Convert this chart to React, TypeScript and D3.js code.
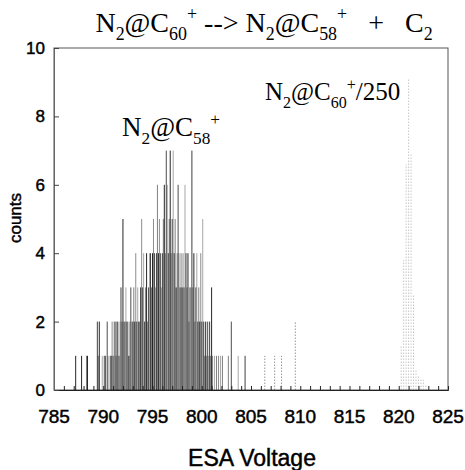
import React, { useEffect, useRef } from "react";
import * as d3 from "d3";

// ESA scan of N2@C58+ fragments, 0.1 V channels starting at 786.0 V
const mainStart = 786.0;
const mainStep = 0.1;
const mainCounts = [
  0, 0, 0, 0, 0, 0, 0, 0, 0, 0, // 786
  0, 0, 1, 0, 0, 0, 0, 0, 1, 0, // 787
  0, 0, 0, 1, 1, 0, 0, 0, 0, 0, // 788
  0, 0, 0, 0, 2, 1, 2, 0, 0, 1, // 789
  0, 1, 1, 0, 2, 1, 0, 1, 1, 2, // 790
  1, 2, 2, 1, 2, 2, 1, 2, 3, 2, // 791
  5, 2, 2, 3, 2, 2, 1, 2, 3, 2, // 792
  2, 3, 2, 4, 2, 3, 2, 2, 3, 5, // 793
  3, 4, 2, 3, 4, 2, 3, 4, 4, 3, // 794
  4, 5, 4, 3, 4, 6, 4, 5, 4, 3, // 795
  4, 5, 6, 4, 7, 6, 4, 5, 7, 4, // 796
  5, 7, 4, 5, 3, 4, 6, 4, 3, 4, // 797
  3, 4, 3, 6, 4, 3, 4, 2, 3, 3, // 798
  7, 3, 4, 2, 3, 4, 2, 3, 2, 4, // 799
  2, 5, 2, 1, 2, 1, 2, 1, 2, 1, // 800
  3, 1, 0, 1, 0, 1, 0, 1, 0, 1, // 801
  0, 1, 0, 0, 0, 0, 0, 1, 0, 0, // 802
  2, 0, 0, 0, 0, 0, 0, 1, 0, 0, // 803
  0, 0, 0, 0, 1, 0, 0, 0, 0, 0, // 804
];

// isolated counts beyond the main cluster
const sparseVolts = [806.4, 807.4, 808.1, 809.5];
const sparseCounts = [1, 1, 1, 2];

// parent ion peak, divided by 250
const parentVolts = [820.25, 820.5, 820.75, 821.0, 821.25, 821.5, 821.75, 822.0, 822.25, 822.5, 822.75];
const parentCounts = [1.3, 3.8, 6.6, 9.1, 6.9, 2.8, 0.6, 0.4, 0.3, 0.3, 0.15];

const xLabels = [785, 790, 795, 800, 805, 810, 815, 820, 825];
const xMinor = d3.range(785, 826, 1);
const yLabels = [0, 2, 4, 6, 8, 10];

// [text, 0 normal | 1 subscript | 2 superscript]
const titleParts: [string, number][] = [
  ["N", 0], ["2", 1], ["@C", 0], ["60", 1], ["+", 2], [" --> N", 0], ["2", 1],
  ["@C", 0], ["58", 1], ["+", 2], ["   +   C", 0], ["2", 1],
];
const fragParts: [string, number][] = [["N", 0], ["2", 1], ["@C", 0], ["58", 1], ["+", 2]];
const parentParts: [string, number][] = [["N", 0], ["2", 1], ["@C", 0], ["60", 1], ["+", 2], ["/250", 0]];

const W = 465;
const H = 470;
const margin = { left: 54, right: 17, top: 48, bottom: 80 };
const grain = [0.85, 0.45, 0.7, 0.35, 0.75, 0.5];

const chem = (g, parts, x, y, fs, anchor = "start") => {
  const t = g
    .append("text")
    .attr("x", x)
    .attr("y", y)
    .attr("text-anchor", anchor)
    .attr("font-family", "Liberation Serif, Times New Roman, serif")
    .attr("font-size", fs)
    .style("white-space", "pre");
  let off = 0;
  parts.forEach(([s, k]) => {
    const target = k === 1 ? fs * 0.3 : k === 2 ? -fs * 0.42 : 0;
    t.append("tspan")
      .attr("dy", target - off)
      .attr("font-size", k === 0 ? fs : fs * 0.64)
      .text(s);
    off = target;
  });
};

const sans = (sel, fs) =>
  sel
    .attr("font-family", "Liberation Sans, Arial, sans-serif")
    .attr("font-size", fs)
    .attr("fill", "#000")
    .attr("stroke", "#000")
    .attr("stroke-width", 0.45);

const App = () => {
  const ref = useRef(null);

  useEffect(() => {
    d3.select(ref.current).selectAll("*").remove();
    const svg = d3
      .select(ref.current)
      .append("svg")
      .attr("width", W)
      .attr("height", H)
      .style("position", "absolute")
      .style("left", "0px")
      .style("top", "0px")
      .style("background", "#fff");

    const x = d3.scaleLinear().domain([785, 825]).range([margin.left, W - margin.right]);
    const y = d3.scaleLinear().domain([0, 10]).range([H - margin.bottom, margin.top]);

    // frame
    svg
      .append("rect")
      .attr("x", x(785))
      .attr("y", y(10))
      .attr("width", x(825) - x(785))
      .attr("height", y(0) - y(10))
      .attr("fill", "none")
      .attr("stroke", "#555")
      .attr("stroke-width", 1);

    // main cluster: grainy channel lines
    svg
      .append("g")
      .selectAll("line")
      .data(mainCounts.map((c, i) => ({ v: mainStart + i * mainStep, c, i })).filter((d) => d.c > 0))
      .join("line")
      .attr("x1", (d) => x(d.v))
      .attr("x2", (d) => x(d.v))
      .attr("y1", y(0))
      .attr("y2", (d) => y(d.c))
      .attr("stroke", "#000")
      .attr("stroke-opacity", (d) => grain[d.i % grain.length])
      .attr("stroke-width", 1);

    svg
      .append("g")
      .selectAll("line")
      .data(sparseVolts.map((v, i) => ({ v, c: sparseCounts[i] })))
      .join("line")
      .attr("x1", (d) => x(d.v))
      .attr("x2", (d) => x(d.v))
      .attr("y1", y(0))
      .attr("y2", (d) => y(d.c))
      .attr("stroke", "#333")
      .attr("stroke-opacity", 0.5)
      .attr("stroke-width", 1)
      .attr("stroke-dasharray", "1.5 1.5");

    svg
      .append("g")
      .selectAll("line")
      .data(parentVolts.map((v, i) => ({ v, c: parentCounts[i] })))
      .join("line")
      .attr("x1", (d) => x(d.v))
      .attr("x2", (d) => x(d.v))
      .attr("y1", y(0))
      .attr("y2", (d) => y(d.c))
      .attr("stroke", "#666")
      .attr("stroke-opacity", 0.45)
      .attr("stroke-width", 0.8)
      .attr("stroke-dasharray", "1.5 1.5");

    // x axis: inward minor ticks every volt
    const xAxis = svg
      .append("g")
      .attr("transform", `translate(0, ${y(0)})`)
      .call(d3.axisBottom(x).tickValues(xMinor).tickSize(-4).tickFormat(() => ""));
    xAxis.select(".domain").attr("stroke", "#222");
    xAxis.selectAll(".tick line").attr("stroke", "#222");

    sans(
      svg
        .append("g")
        .selectAll("text")
        .data(xLabels)
        .join("text")
        .attr("x", (d) => x(d))
        .attr("y", y(0) + 33)
        .attr("text-anchor", "middle")
        .text((d) => d),
      19
    );

    // y axis
    const yAxis = svg
      .append("g")
      .attr("transform", `translate(${x(785)}, 0)`)
      .call(d3.axisLeft(y).tickValues(yLabels).tickSize(-5).tickFormat(() => ""));
    yAxis.select(".domain").attr("stroke", "#666");
    yAxis.selectAll(".tick line").attr("stroke", "#444");

    sans(
      svg
        .append("g")
        .selectAll("text")
        .data(yLabels)
        .join("text")
        .attr("x", x(785) - 9)
        .attr("y", (d) => y(d) + 6)
        .attr("text-anchor", "end")
        .text((d) => d),
      17
    );

    sans(
      svg
        .append("text")
        .attr("transform", `translate(21, 218) rotate(-90)`)
        .attr("text-anchor", "middle")
        .text("counts"),
      17
    );

    sans(
      svg
        .append("text")
        .attr("x", 252)
        .attr("y", 466)
        .attr("text-anchor", "middle")
        .text("ESA Voltage"),
      23
    );

    chem(svg, titleParts, 264, 32, 28, "middle");
    chem(svg, fragParts, 122, 136, 27);
    chem(svg, parentParts, 265, 100, 25);
  }, []);

  return <div ref={ref} />;
};

export default App;
